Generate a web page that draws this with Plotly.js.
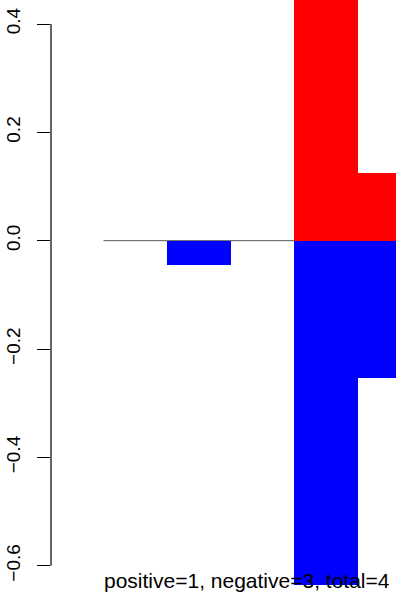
<!DOCTYPE html>
<html>
<head>
<meta charset="utf-8">
<script src="https://cdn.plot.ly/plotly-3.0.1.min.js"></script>
<style>html,body{margin:0;padding:0;background:#fff;}#chart{width:396px;height:592px;}</style>
</head>
<body>
<div id="chart"></div>
<script>
// Data
const slots = [0.5, 1.5, 2.5, 3.5, 4.5];
const positiveValues = [0, 0, 0, 0.5, 0.125];
const negativeValues = [0, -0.044, 0, -0.635, -0.254];
const yTickValues = [-0.6, -0.4, -0.2, 0.0, 0.2, 0.4];
const yTickLabels = ["\u22120.6", "\u22120.4", "\u22120.2", "0.0", "0.2", "0.4"];
const footnote = "positive=1, negative=3, total=4";

const FONT = "Liberation Sans, Arial, Helvetica, sans-serif";

const traces = [
  {type: "bar", x: slots, y: positiveValues, width: 1, marker: {color: "#ff0000", line: {width: 0}}, hoverinfo: "skip"},
  {type: "bar", x: slots, y: negativeValues, width: 1, marker: {color: "#0000ff", line: {width: 0}}, hoverinfo: "skip"}
];

const layout = {
  width: 396, height: 592,
  margin: {l: 51, r: 0, t: 0, b: 0, pad: 0},
  paper_bgcolor: "#fff", plot_bgcolor: "#fff",
  showlegend: false,
  barmode: "relative", bargap: 0,
  font: {family: FONT, color: "#000"},
  xaxis: {range: [-0.827, 4.606], visible: false, fixedrange: true},
  yaxis: {
    range: [-0.6485, 0.4443],
    tickvals: yTickValues, ticktext: yTickLabels,
    ticks: "outside", ticklen: 13, tickwidth: 1, tickcolor: "#000",
    tickangle: -90, tickfont: {size: 19, family: FONT, color: "#000"},
    showgrid: false, zeroline: false, showline: false, fixedrange: true,
    ticklabelstandoff: 9
  },
  shapes: [
    {type: "line", xref: "paper", yref: "y", x0: 0, x1: 0, y0: -0.6, y1: 0.4, line: {color: "#000", width: 1.2}},
    {type: "line", xref: "x", yref: "y", x0: 0, x1: 4.606, y0: 0, y1: 0, line: {color: "#555", width: 1}, layer: "below"}
  ],
  annotations: [
    {xref: "paper", yref: "paper", x: 0.5667, y: 0.02, xanchor: "center", yanchor: "middle",
     text: footnote, showarrow: false, font: {size: 21, family: FONT, color: "#000"}}
  ]
};

Plotly.newPlot("chart", traces, layout, {staticPlot: true, displayModeBar: false});
</script>
</body>
</html>
